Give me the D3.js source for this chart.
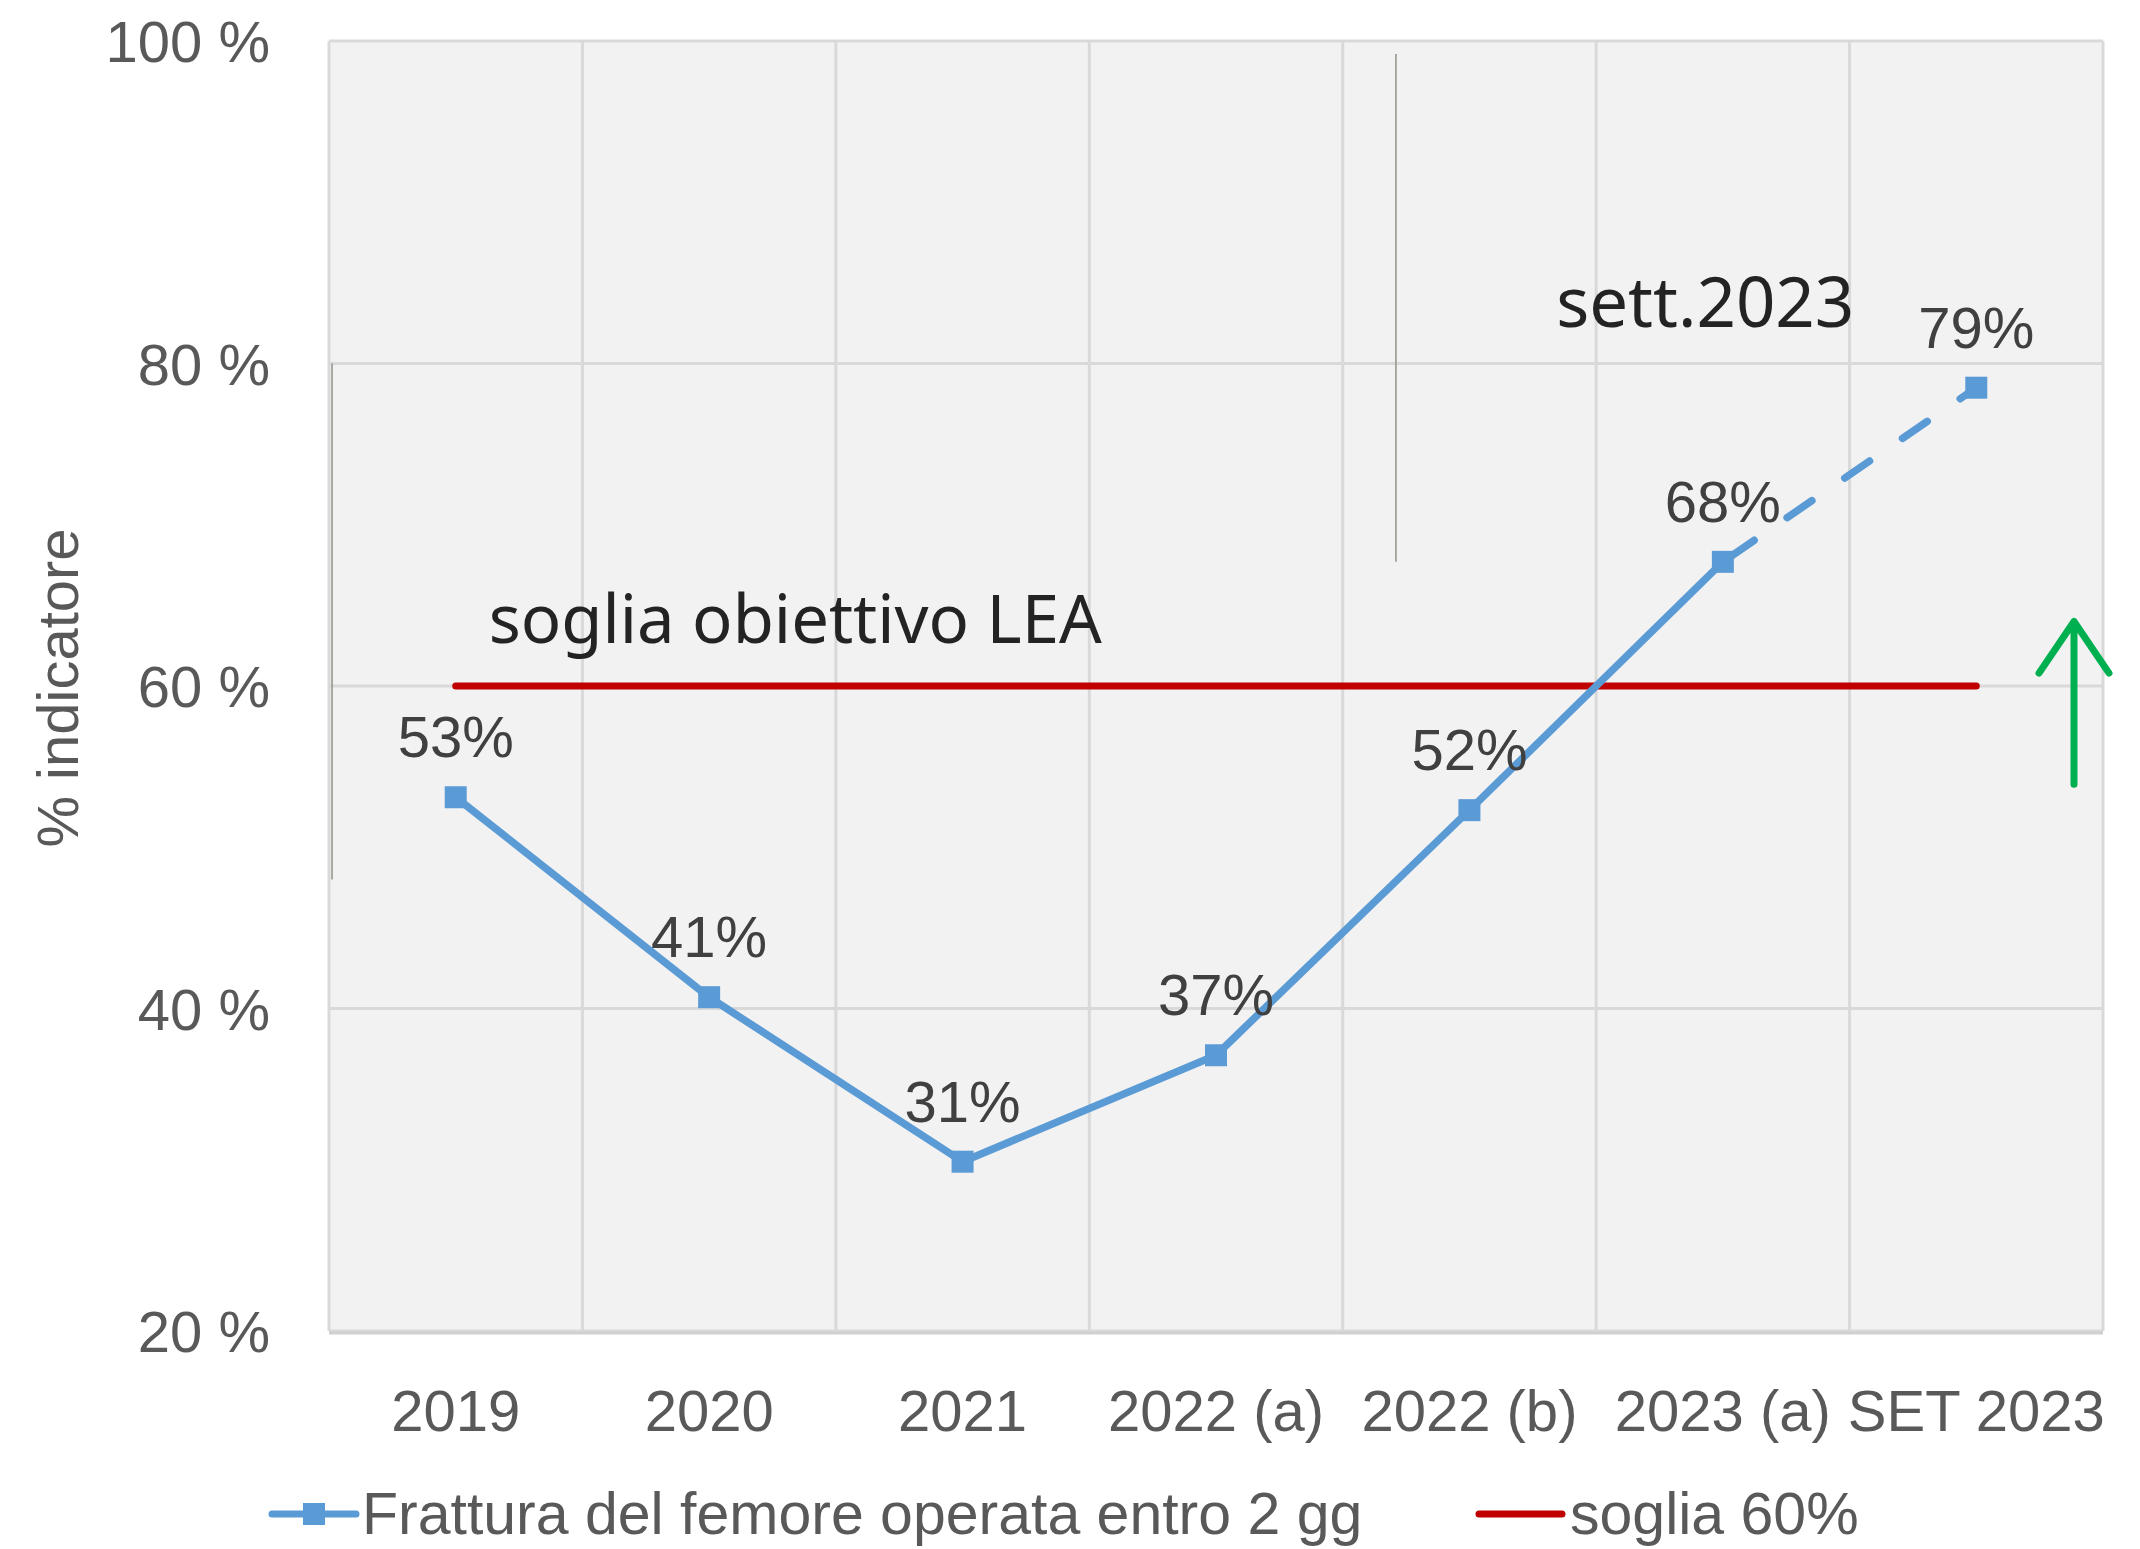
<!DOCTYPE html>
<html lang="it">
<head>
  <meta charset="UTF-8">
  <title>Frattura del femore operata entro 2 gg</title>
  <script src="https://d3js.org/d3.v7.min.js"></script>
  <style>
    body { margin: 0; background: #fff; }
    svg { display: block; }
    .tick-label { font-family: "Liberation Sans", Arial, sans-serif; font-size: 58px; fill: #595959; }
    .legend-label { font-family: "Liberation Sans", Arial, sans-serif; font-size: 59px; fill: #595959; }
    .note { font-family: "Noto Sans", sans-serif; fill: #232323; }
  </style>
</head>
<body>
<svg id="chart" width="2140" height="1549"></svg>
<script>
  // data
  const categories = ['2019', '2020', '2021', '2022 (a)', '2022 (b)', '2023 (a)', 'SET 2023'];
  const femore = [53.1, 40.7, 30.5, 37.1, 52.3, 67.7, 78.5];
  const femoreLabels = ['53%', '41%', '31%', '37%', '52%', '68%', '79%'];
  const soglia = [60, 60, 60, 60, 60, 60, 60];
  const yTicks = [20, 40, 60, 80, 100];
  const legendNames = ['Frattura del femore operata entro 2 gg', 'soglia 60%'];

  const blue = '#5B9BD5', red = '#C00000', green = '#00B050';

  const svg = d3.select('#chart');
  const plotLeft = 329, plotRight = 2103, plotTop = 41, plotBottom = 1331;

  const x = d3.scaleBand().domain(categories).range([plotLeft, plotRight]);
  const y = d3.scaleLinear().domain([20, 100]).range([plotBottom, plotTop]);
  const cx = c => x(c) + x.bandwidth() / 2;

  // plot background
  svg.append('rect')
    .attr('x', plotLeft).attr('y', plotTop)
    .attr('width', plotRight - plotLeft).attr('height', plotBottom - plotTop)
    .attr('fill', '#F2F2F2');

  // horizontal grid
  svg.append('g').selectAll('line')
    .data(yTicks)
    .join('line')
    .attr('x1', plotLeft).attr('x2', plotRight)
    .attr('y1', d => y(d)).attr('y2', d => y(d))
    .attr('stroke', '#D9D9D9').attr('stroke-width', 3);

  // vertical grid at band edges
  svg.append('g').selectAll('line')
    .data(categories.map(c => x(c)).concat([plotRight]))
    .join('line')
    .attr('x1', d => d).attr('x2', d => d)
    .attr('y1', plotTop).attr('y2', plotBottom)
    .attr('stroke', '#D9D9D9').attr('stroke-width', 3);

  // bottom edge, a bit darker
  svg.append('line')
    .attr('x1', plotLeft).attr('x2', plotRight)
    .attr('y1', y(20) + 2).attr('y2', y(20) + 2)
    .attr('stroke', '#D0D0D0').attr('stroke-width', 3);

  // stray thin lines from the original picture
  const strays = [
    {c: '2019', f: 0.012, from: 80, to: 48},
    {c: '2022 (b)', f: 0.21, from: 99.2, to: 67.7}
  ];
  svg.append('g').selectAll('line')
    .data(strays)
    .join('line')
    .attr('x1', d => x(d.c) + d.f * x.bandwidth())
    .attr('x2', d => x(d.c) + d.f * x.bandwidth())
    .attr('y1', d => y(d.from)).attr('y2', d => y(d.to))
    .attr('stroke', '#9A9590').attr('stroke-width', 1.6);

  // y axis labels
  const yAxis = d3.axisLeft(y).tickValues(yTicks).tickFormat(d => d + ' %').tickSize(0).tickPadding(0);
  const gy = svg.append('g').attr('transform', 'translate(270,0)').call(yAxis);
  gy.select('.domain').remove();
  gy.selectAll('text').attr('class', 'tick-label').attr('dy', '0.36em');

  // x axis labels
  const xAxis = d3.axisBottom(x).tickSize(0).tickPadding(0);
  const gx = svg.append('g').attr('transform', 'translate(0,1410)').call(xAxis);
  gx.select('.domain').remove();
  gx.selectAll('text').attr('class', 'tick-label').attr('dy', '0.36em');

  // y title
  svg.append('text')
    .attr('class', 'tick-label')
    .attr('transform', `translate(57,${(y(80) + y(40)) / 2 + 2}) rotate(-90)`)
    .attr('text-anchor', 'middle')
    .attr('dy', '0.36em')
    .text('% indicatore');

  // threshold line
  const line = d3.line().x((d, i) => cx(categories[i])).y(d => y(d));
  svg.append('path')
    .datum(soglia)
    .attr('d', line)
    .attr('fill', 'none')
    .attr('stroke', red).attr('stroke-width', 7)
    .attr('stroke-linecap', 'round');

  // series: solid part, then dashed last segment
  const n = femore.length;
  svg.append('path')
    .datum(femore.slice(0, n - 1))
    .attr('d', line)
    .attr('fill', 'none')
    .attr('stroke', blue).attr('stroke-width', 7.5)
    .attr('stroke-linejoin', 'round');

  const dashLine = d3.line().x((d, i) => cx(categories[n - 2 + i])).y(d => y(d));
  svg.append('path')
    .datum(femore.slice(n - 2))
    .attr('d', dashLine)
    .attr('fill', 'none')
    .attr('stroke', blue).attr('stroke-width', 7.5)
    .attr('stroke-dasharray', '30 40')
    .attr('stroke-dashoffset', -8)
    .attr('stroke-linecap', 'round');

  svg.append('g').selectAll('rect')
    .data(femore)
    .join('rect')
    .attr('x', (d, i) => cx(categories[i]) - 11)
    .attr('y', d => y(d) - 11)
    .attr('width', 22).attr('height', 22)
    .attr('fill', blue);

  // data labels
  svg.append('g').selectAll('text')
    .data(femore)
    .join('text')
    .attr('class', 'tick-label')
    .attr('x', (d, i) => cx(categories[i]))
    .attr('y', d => y(d) - 61)
    .attr('dy', '0.36em')
    .attr('text-anchor', 'middle')
    .style('fill', '#404040')
    .text((d, i) => femoreLabels[i]);

  // annotations
  svg.append('text')
    .attr('class', 'note')
    .style('font-size', '67px')
    .attr('x', cx('2019') + 33)
    .attr('y', y(60) - 43)
    .text('soglia obiettivo LEA');

  svg.append('text')
    .attr('class', 'note')
    .style('font-size', '69px')
    .attr('x', x('2023 (a)') - 40)
    .attr('y', y(80) - 37)
    .text('sett.2023');

  // green arrow
  const ax = plotRight - 29;
  svg.append('path')
    .attr('d', `M${ax},${y(53.9)} L${ax},${y(64)} M${ax - 35},${y(60.8)} L${ax},${y(64)} L${ax + 35},${y(60.8)}`)
    .attr('fill', 'none')
    .attr('stroke', green).attr('stroke-width', 7)
    .attr('stroke-linecap', 'round').attr('stroke-linejoin', 'round');

  // legend
  const legendY = 1514;
  const lg = svg.append('g');
  lg.append('line').attr('x1', 272).attr('x2', 356).attr('y1', legendY).attr('y2', legendY)
    .attr('stroke', blue).attr('stroke-width', 7).attr('stroke-linecap', 'round');
  lg.append('rect').attr('x', 303).attr('y', legendY - 11).attr('width', 22).attr('height', 22).attr('fill', blue);
  lg.append('text').attr('class', 'legend-label').attr('x', 362).attr('y', legendY).attr('dy', '0.34em').text(legendNames[0]);

  lg.append('line').attr('x1', 1479).attr('x2', 1562).attr('y1', legendY).attr('y2', legendY)
    .attr('stroke', red).attr('stroke-width', 7).attr('stroke-linecap', 'round');
  lg.append('text').attr('class', 'legend-label').attr('x', 1570).attr('y', legendY).attr('dy', '0.34em').text(legendNames[1]);
</script>
</body>
</html>
